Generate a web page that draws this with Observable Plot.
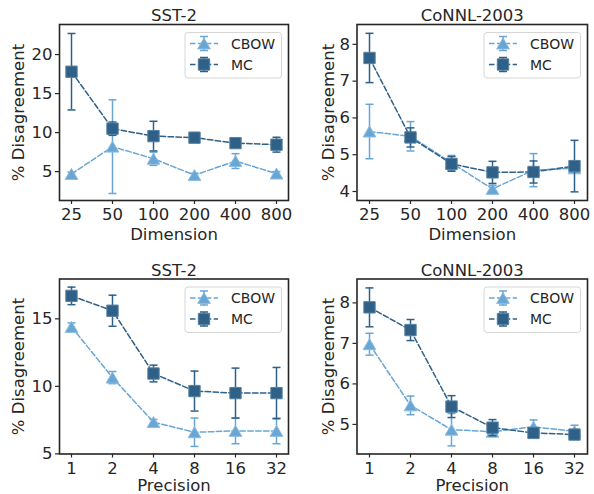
<!DOCTYPE html>
<html><head><meta charset="utf-8">
<script src="https://cdn.jsdelivr.net/npm/d3@7"></script>
<script src="https://cdn.jsdelivr.net/npm/@observablehq/plot@0.6"></script>
<style>
body{margin:0;background:#fff;}
#wrap{position:relative;width:594px;height:494px;overflow:hidden;}
#wrap > svg{position:absolute;}
</style></head><body><div id="wrap"></div>
<script>
// ---------- data ----------
const dimensions = ["25", "50", "100", "200", "400", "800"];
const precisions = ["1", "2", "4", "8", "16", "32"];
const series = ["CBOW", "MC"];
const titles = ["SST-2", "CoNNL-2003", "SST-2", "CoNNL-2003"];
const xLabels = ["Dimension", "Dimension", "Precision", "Precision"];
const yLabel = "% Disagreement";

const sstDimCBOW    = [4.7, 8.2, 6.65, 4.55, 6.35, 4.75];
const sstDimCBOWErr = [0.25, 6.0, 0.85, 0.25, 0.95, 0.25];
const sstDimMC      = [17.8, 10.5, 9.55, 9.35, 8.65, 8.45];
const sstDimMCErr   = [4.9, 0.85, 1.9, 0.3, 0.3, 0.95];

const conllDimCBOW    = [5.63, 5.5, 4.78, 4.07, 4.58, 4.63];
const conllDimCBOWErr = [0.74, 0.4, 0.2, 0.1, 0.45, 0.1];
const conllDimMC      = [7.63, 5.47, 4.75, 4.52, 4.53, 4.69];
const conllDimMCErr   = [0.67, 0.26, 0.2, 0.3, 0.3, 0.7];

const sstPrecCBOW    = [14.4, 10.65, 7.35, 6.6, 6.7, 6.7];
const sstPrecCBOWErr = [0.3, 0.45, 0.2, 1.05, 0.95, 0.95];
const sstPrecMC      = [16.7, 15.6, 10.95, 9.65, 9.5, 9.5];
const sstPrecMCErr   = [0.65, 1.15, 0.62, 1.48, 1.85, 1.9];

const conllPrecCBOW    = [6.98, 5.47, 4.87, 4.82, 4.94, 4.83];
const conllPrecCBOWErr = [0.27, 0.23, 0.4, 0.1, 0.17, 0.15];
const conllPrecMC      = [7.89, 7.33, 5.44, 4.92, 4.79, 4.75];
const conllPrecMCErr   = [0.48, 0.26, 0.27, 0.2, 0.1, 0.1];

const yTicks = [[5, 10, 15, 20], [4, 5, 6, 7, 8], [5, 10, 15], [5, 6, 7, 8]];
const yDomains = [[1.3, 23.85], [3.755, 8.54], [4.99, 17.95], [4.27, 8.59]];

// ---------- styling / layout ----------
const colors = {CBOW: "#6aa6d4", MC: "#2f6188"};
const edges = {CBOW: "#8cbce0", MC: "#56809f"};
const symbols = {CBOW: "triangle", MC: "square"};
const radius = {CBOW: 4.7, MC: 6.4};
const ink = "#262626";
const font = "DejaVu Sans";
const layout = [
  {left: 0,   top: 0,   ml: 59,   mr: 9, mt: 24,   mb: 47,   xl: 39},
  {left: 297, top: 0,   ml: 59.5, mr: 7, mt: 24,   mb: 47,   xl: 39},
  {left: 0,   top: 247, ml: 59,   mr: 9, mt: 31.5, mb: 40.5, xl: 37},
  {left: 297, top: 247, ml: 59.5, mr: 7, mt: 31.5, mb: 40.5, xl: 37}
];
const capSymbol = {draw(ctx) { ctx.moveTo(-4, 0); ctx.lineTo(4, 0); }};

function rows(cats, cbow, cbowErr, mc, mcErr) {
  return [
    ...cats.map((c, i) => ({x: c, s: "CBOW", v: cbow[i], e: cbowErr[i]})),
    ...cats.map((c, i) => ({x: c, s: "MC", v: mc[i], e: mcErr[i]}))
  ];
}

const panelsData = [
  {cats: dimensions, data: rows(dimensions, sstDimCBOW, sstDimCBOWErr, sstDimMC, sstDimMCErr)},
  {cats: dimensions, data: rows(dimensions, conllDimCBOW, conllDimCBOWErr, conllDimMC, conllDimMCErr)},
  {cats: precisions, data: rows(precisions, sstPrecCBOW, sstPrecCBOWErr, sstPrecMC, sstPrecMCErr)},
  {cats: precisions, data: rows(precisions, conllPrecCBOW, conllPrecCBOWErr, conllPrecMC, conllPrecMCErr)}
];

function legendMark(index, scales, values, dims) {
  const fr = dims.width - dims.marginRight;
  const ft = dims.marginTop;
  const g = d3.create("svg:g");
  const bx = fr - 103, by = ft + 8.5;
  g.append("rect").attr("x", bx).attr("y", by).attr("width", 96.5).attr("height", 45.5)
    .attr("rx", 3).attr("fill", "#fff").attr("fill-opacity", 0.8)
    .attr("stroke", "#d6d6d6").attr("stroke-width", 1);
  series.forEach((s, k) => {
    const cy = by + 11 + k * 21;
    const cx = bx + 19;
    g.append("line").attr("x1", bx + 5).attr("x2", bx + 33).attr("y1", cy).attr("y2", cy)
      .attr("stroke", colors[s]).attr("stroke-width", 1.5).attr("stroke-dasharray", "5.5,2.4");
    g.append("line").attr("x1", cx).attr("x2", cx).attr("y1", cy - 7).attr("y2", cy + 7)
      .attr("stroke", colors[s]).attr("stroke-width", 1.5);
    [cy - 7, cy + 7].forEach(yy => g.append("line").attr("x1", cx - 4).attr("x2", cx + 4)
      .attr("y1", yy).attr("y2", yy).attr("stroke", colors[s]).attr("stroke-width", 1.5));
    const sym = s === "CBOW" ? d3.symbolTriangle : d3.symbolSquare;
    const size = Math.PI * radius[s] * radius[s];
    g.append("path").attr("d", d3.symbol(sym, size)())
      .attr("transform", `translate(${cx},${cy + (s === "CBOW" ? 1.8 : 0)})`)
      .attr("fill", colors[s]).attr("stroke", edges[s]).attr("stroke-width", 1);
    g.append("text").attr("x", bx + 46).attr("y", cy).attr("dy", "0.36em")
      .attr("text-anchor", "start")
      .attr("fill", ink).attr("font-size", 14).attr("font-family", font).text(s);
  });
  return g.node();
}

const wrap = document.getElementById("wrap");

panelsData.forEach(({cats, data}, i) => {
  const L = layout[i];
  const marks = [
    Plot.axisX({ticks: cats, tickSize: 4, tickPadding: 3.8, fontSize: 16.5, stroke: ink, strokeWidth: 1.2, fill: ink, label: null}),
    Plot.axisY({ticks: yTicks[i], tickFormat: d3.format("d"), tickSize: 4, tickPadding: 3, fontSize: 16.5, stroke: ink, strokeWidth: 1.2, fill: ink, label: null})
  ];
  series.forEach(s => {
    const d = data.filter(r => r.s === s);
    marks.push(
      Plot.ruleX(d, {x: "x", y1: r => r.v - r.e, y2: r => r.v + r.e, stroke: colors[s], strokeWidth: 1.5}),
      Plot.dot(d, {x: "x", y: r => r.v + r.e, symbol: capSymbol, fill: "none", stroke: colors[s], strokeWidth: 1.5}),
      Plot.dot(d, {x: "x", y: r => r.v - r.e, symbol: capSymbol, fill: "none", stroke: colors[s], strokeWidth: 1.5}),
      Plot.line(d, {x: "x", y: "v", stroke: colors[s], strokeWidth: 1.5, strokeDasharray: "5.5,2.4"}),
      Plot.dot(d, {x: "x", y: "v", symbol: symbols[s], r: radius[s], fill: colors[s], stroke: edges[s], strokeWidth: 1, dy: s === "CBOW" ? 1.8 : 0})
    );
  });
  marks.push(
    Plot.frame({stroke: ink, strokeWidth: 1.6}),
    Plot.text([titles[i]], {frameAnchor: "top", dy: -3.5, lineAnchor: "bottom", fontSize: 16.5, fill: ink}),
    Plot.text([xLabels[i]], {frameAnchor: "bottom", dy: L.xl, lineAnchor: "bottom", fontSize: 16.5, fill: ink}),
    Plot.text([yLabel], {frameAnchor: "left", textAnchor: "middle", dx: i % 2 === 0 ? -40.7 : -28, rotate: -90, lineAnchor: "middle", fontSize: 16.5, fill: ink}),
    legendMark
  );
  const chart = Plot.plot({
    width: 297, height: 247,
    marginLeft: L.ml, marginRight: L.mr, marginTop: L.mt, marginBottom: L.mb,
    style: {fontFamily: font, fontSize: "16.5px", color: ink, background: "transparent", overflow: "visible"},
    x: {type: "point", domain: cats, padding: 0.25, label: null},
    y: {domain: yDomains[i], label: null},
    marks
  });
  chart.style.left = L.left + "px";
  chart.style.top = L.top + "px";
  wrap.appendChild(chart);
});
</script>
</body></html>
